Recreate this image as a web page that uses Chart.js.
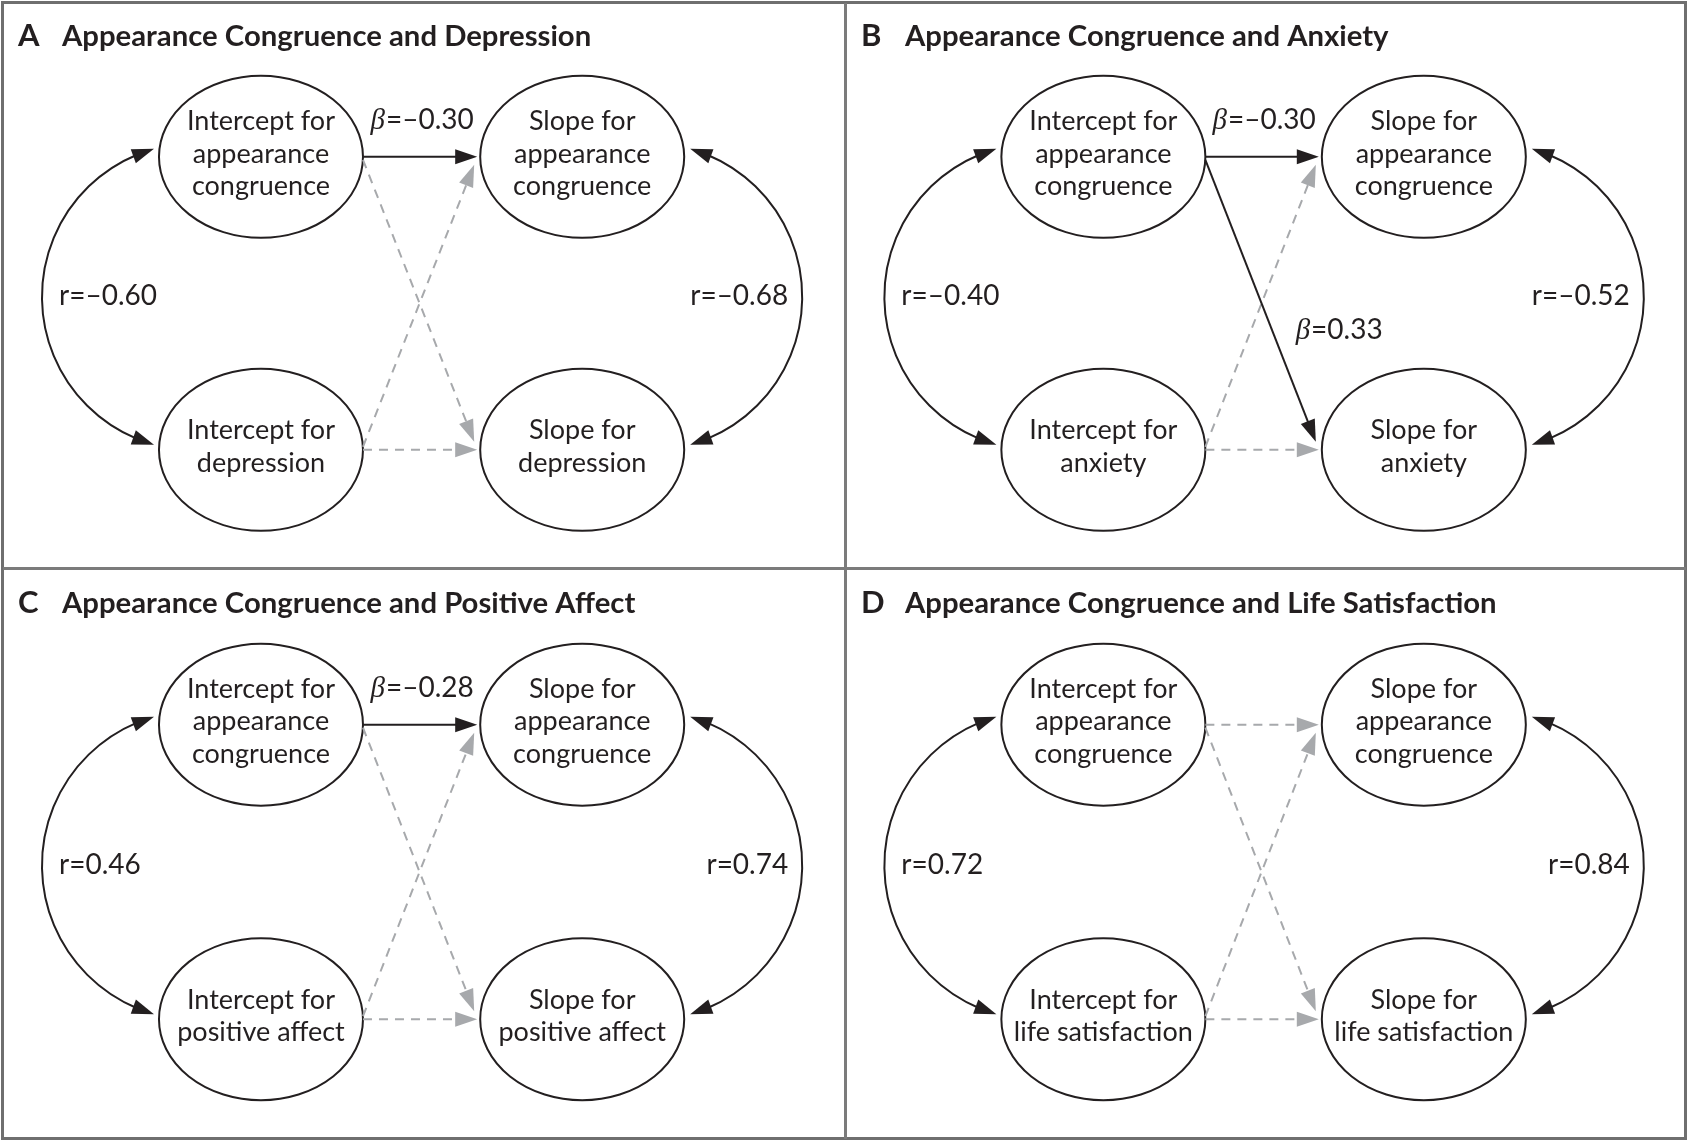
<!DOCTYPE html>
<html>
<head>
<meta charset="utf-8">
<script src="https://cdn.jsdelivr.net/npm/chart.js@4.4.1/dist/chart.umd.min.js"></script>
<style>
  html, body { margin: 0; padding: 0; background: #fff; }
  #fig { position: relative; width: 1689px; height: 1143px; background: #fff; overflow: hidden; }
  .frame { position: absolute; left: 1px; top: 1px; width: 1680px; height: 1133px; border: 3px solid #6f6f6f; }
  .vline { position: absolute; left: 844px; top: 3px; width: 3px; height: 1136px; background: #7b7b7b; }
  .hline { position: absolute; left: 3px; top: 567px; width: 1683px; height: 3px; background: #7b7b7b; }
  canvas { position: absolute; }
</style>
</head>
<body>
<div id="fig">
  <div class="frame"></div>
  <div class="vline"></div>
  <div class="hline"></div>
  <canvas id="pA" width="840" height="564" style="left:4px;top:3px"></canvas>
  <canvas id="pB" width="838" height="564" style="left:847px;top:3px"></canvas>
  <canvas id="pC" width="840" height="567" style="left:4px;top:570px"></canvas>
  <canvas id="pD" width="838" height="567" style="left:847px;top:570px"></canvas>
</div>
<script>
// panels
const panelLetters = ['A', 'B', 'C', 'D'];
const panelTitles = [
  'Appearance Congruence and Depression',
  'Appearance Congruence and Anxiety',
  'Appearance Congruence and Positive Affect',
  'Appearance Congruence and Life Satisfaction'
];
const outcomeLines = [['depression'], ['anxiety'], ['positive affect'], ['life satisfaction']];
const appearanceLines = ['appearance', 'congruence'];

// correlations between intercepts and between slopes
const interceptR = [-0.60, -0.40, 0.46, 0.72];
const slopeR = [-0.68, -0.52, 0.74, 0.84];

// cross-lagged paths; null = not significant (dashed gray)
const betaAppToApp = [-0.30, -0.30, -0.28, null];
const betaAppToOut = [null, 0.33, null, null];
const betaOutToApp = [null, null, null, null];
const betaOutToOut = [null, null, null, null];

// nodes: 0 intercept appearance, 1 slope appearance, 2 intercept outcome, 3 slope outcome
const nodeCol = [0, 1, 0, 1];
const nodeRow = [0, 0, 1, 1];
const pathFrom = [0, 0, 2, 2];
const pathTo = [1, 3, 1, 3];
const pathBeta = [betaAppToApp, betaAppToOut, betaOutToApp, betaOutToOut];

const INK = '#231f20';
const GRAY = '#a7a9ac';
const RX = 102, RY = 81;
const HEAD = 22;

const fmt = v => v.toFixed(2).replace('-', '\u2013');

function nodeLabel(p, k) {
  const head = k % 2 === 0 ? 'Intercept for' : 'Slope for';
  return [head].concat(k < 2 ? appearanceLines : outcomeLines[p]);
}

function arrowHead(ctx, x, y, ang, color) {
  const hw = 7.5;
  const bx = x - HEAD * Math.cos(ang), by = y - HEAD * Math.sin(ang);
  ctx.fillStyle = color;
  ctx.beginPath();
  ctx.moveTo(x, y);
  ctx.lineTo(bx + hw * Math.sin(ang), by - hw * Math.cos(ang));
  ctx.lineTo(bx - hw * Math.sin(ang), by + hw * Math.cos(ang));
  ctx.closePath();
  ctx.fill();
}

function straightArrow(ctx, x1, y1, x2, y2, color, dashed) {
  const ang = Math.atan2(y2 - y1, x2 - x1);
  const ex = x2 - 18 * Math.cos(ang), ey = y2 - 18 * Math.sin(ang);
  ctx.strokeStyle = color;
  ctx.lineWidth = 2;
  ctx.setLineDash(dashed ? [9, 7] : []);
  ctx.beginPath();
  ctx.moveTo(x1, y1);
  ctx.lineTo(ex, ey);
  ctx.stroke();
  ctx.setLineDash([]);
  arrowHead(ctx, x2, y2, ang, color);
}

// double-headed circular arc between two tips at x, bulging out by d (sign = side)
function curvedArrow(ctx, x, y1, y2, d) {
  const s = Math.sign(d), a = Math.abs(d);
  const h = (y2 - y1) / 2, cy = (y1 + y2) / 2;
  const R = (a * a + h * h) / (2 * a);
  const cx = x + s * (a - R);
  const a1 = Math.atan2(y1 - cy, x - cx), a2 = Math.atan2(y2 - cy, x - cx);
  const dh = (HEAD - 4) / R;
  const anti = s < 0;
  const step = anti ? -dh : dh;
  ctx.strokeStyle = INK;
  ctx.lineWidth = 2;
  ctx.setLineDash([]);
  ctx.beginPath();
  ctx.arc(cx, cy, R, a1 + step, a2 - step, anti);
  ctx.stroke();
  const hd = HEAD / R;
  const n1x = cx + R * Math.cos(a1 + (anti ? -hd : hd)), n1y = cy + R * Math.sin(a1 + (anti ? -hd : hd));
  const n2x = cx + R * Math.cos(a2 - (anti ? -hd : hd)), n2y = cy + R * Math.sin(a2 - (anti ? -hd : hd));
  arrowHead(ctx, x, y1, Math.atan2(y1 - n1y, x - n1x), INK);
  arrowHead(ctx, x, y2, Math.atan2(y2 - n2y, x - n2x), INK);
}

function betaText(ctx, v, x, y, align) {
  const rest = '=' + fmt(v);
  ctx.font = 'italic 29px "Liberation Serif"';
  const wb = ctx.measureText('\u03b2').width;
  ctx.font = '28px Lato';
  const wr = ctx.measureText(rest).width;
  const x0 = align === 'center' ? x - (wb + wr) / 2 : x;
  ctx.textAlign = 'left';
  ctx.font = 'italic 29px "Liberation Serif"';
  ctx.fillText('\u03b2', x0, y);
  ctx.font = '28px Lato';
  ctx.fillText(rest, x0 + wb + 1, y);
}

const pathDiagram = {
  id: 'pathDiagram',
  afterDraw(chart, args, opts) {
    const p = opts.panel;
    const ctx = chart.ctx;
    const sx = chart.scales.x, sy = chart.scales.y;
    const px = nodeCol.map(c => sx.getPixelForValue(c));
    const py = nodeRow.map(r => sy.getPixelForValue(r));
    ctx.save();
    ctx.fillStyle = INK;
    ctx.textBaseline = 'alphabetic';

    // title
    ctx.textAlign = 'left';
    ctx.font = 'bold 31px Lato';
    ctx.fillText(panelLetters[p], 14, 43);
    ctx.font = 'bold 29.3px Lato';
    ctx.fillText(panelTitles[p], 58, 43);

    // ellipses
    for (let k = 0; k < 4; k++) {
      ctx.beginPath();
      ctx.ellipse(px[k], py[k], RX, RY, 0, 0, Math.PI * 2);
      ctx.fillStyle = '#fff';
      ctx.fill();
      ctx.strokeStyle = INK;
      ctx.lineWidth = 2;
      ctx.stroke();
      const lines = nodeLabel(p, k);
      ctx.fillStyle = INK;
      ctx.font = '27px Lato';
      ctx.textAlign = 'center';
      ctx.textBaseline = 'middle';
      lines.forEach((t, i) => {
        ctx.fillText(t, px[k], py[k] - 3 + (i - (lines.length - 1) / 2) * 32.5);
      });
    }

    // regression paths: dashed first, solid on top
    const order = [0, 1, 2, 3].sort((a, b) => (pathBeta[a][p] === null ? 0 : 1) - (pathBeta[b][p] === null ? 0 : 1));
    order.forEach(j => {
      const s = pathFrom[j], t = pathTo[j];
      const dir = Math.sign(py[t] - py[s]);
      const x1 = px[s] + RX, y1 = py[s] + 3 * dir;
      const x2 = px[t] - RX - (dir ? 6 : 3), y2 = py[t] - 8 * dir;
      const v = pathBeta[j][p];
      straightArrow(ctx, x1, y1, x2, y2, v === null ? GRAY : INK, v === null);
      if (v !== null) {
        ctx.fillStyle = INK;
        ctx.textBaseline = 'alphabetic';
        if (dir === 0) {
          betaText(ctx, v, (px[s] + px[t]) / 2, py[s] - 28, 'center');
        } else {
          const lx = x1 + 0.6 * (x2 - x1), ly = y1 + 0.6 * (y2 - y1);
          betaText(ctx, v, lx + 24, ly + 10, 'left');
        }
      }
    });

    // correlations
    const yTop = py[0] - 8, yBot = py[2] - 5;
    curvedArrow(ctx, px[0] - RX - 5, yTop, yBot, -112);
    curvedArrow(ctx, px[1] + RX + 6, yTop, yBot, 112);
    ctx.fillStyle = INK;
    ctx.font = '28px Lato';
    ctx.textBaseline = 'middle';
    const ym = (py[0] + py[2]) / 2 - 7;
    ctx.textAlign = 'left';
    ctx.fillText('r=' + fmt(interceptR[p]), px[0] - RX - 100, ym);
    ctx.textAlign = 'right';
    ctx.fillText('r=' + fmt(slopeR[p]), px[1] + RX + 104, ym);
    ctx.restore();
  }
};

['pA', 'pB', 'pC', 'pD'].forEach((id, p) => {
  new Chart(document.getElementById(id), {
    type: 'scatter',
    data: {
      datasets: [{
        data: nodeCol.map((c, k) => ({ x: c, y: nodeRow[k] })),
        pointRadius: 0
      }]
    },
    options: {
      responsive: false,
      animation: false,
      events: [],
      layout: { padding: 0 },
      scales: {
        x: { display: false, min: -0.8, max: 1.815 },
        y: { display: false, min: -0.525, max: 1.4, reverse: true }
      },
      plugins: {
        legend: { display: false },
        tooltip: { enabled: false },
        pathDiagram: { panel: p }
      }
    },
    plugins: [pathDiagram]
  });
});
</script>
</body>
</html>
